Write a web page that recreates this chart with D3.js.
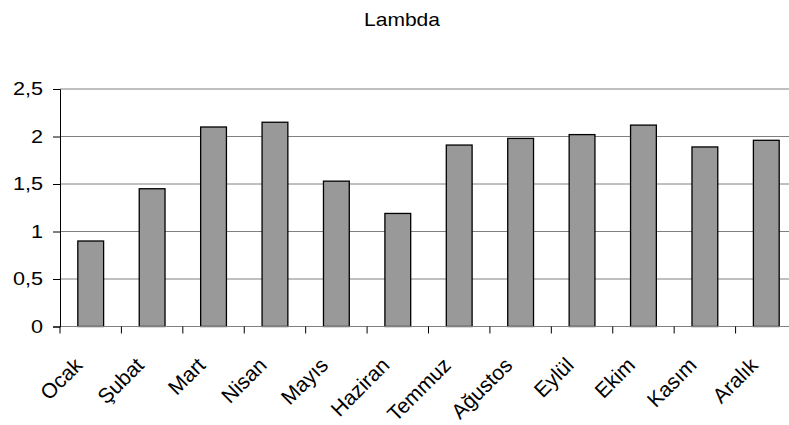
<!DOCTYPE html>
<html>
<head>
<meta charset="utf-8">
<script src="https://cdn.jsdelivr.net/npm/d3@7"></script>
<style>
  body { margin: 0; background: #fff; }
  svg { display: block; font-family: "Liberation Sans", Arial, sans-serif; }
</style>
</head>
<body>
<div id="chart"></div>
<script>
// Data
const months = ["Ocak", "Şubat", "Mart", "Nisan", "Mayıs", "Haziran",
                "Temmuz", "Ağustos", "Eylül", "Ekim", "Kasım", "Aralık"];
const lambdaValues = [0.9, 1.45, 2.1, 2.15, 1.53, 1.19, 1.91, 1.98, 2.02, 2.12, 1.89, 1.96];
const yTicks = [0, 0.5, 1, 1.5, 2, 2.5];

const W = 789, H = 425;
// plot area runs slightly past the right edge, as in the reference
const margin = { top: 89, left: 60 };
const plotW = 737, plotH = 237.5;
const stretch = 1.17; // title and y labels look horizontally stretched

const svg = d3.select("#chart").append("svg")
    .attr("width", W)
    .attr("height", H);

const g = svg.append("g")
    .attr("transform", `translate(${margin.left},${margin.top})`);

const x = d3.scaleBand()
    .domain(months)
    .range([0, plotW])
    .paddingInner(0.58)
    .paddingOuter(0.29);

const y = d3.scaleLinear()
    .domain([0, 2.5])
    .range([plotH, 0]);

// Gridlines
g.selectAll(".grid")
    .data(yTicks.filter(d => d > 0))
    .enter().append("line")
    .attr("class", "grid")
    .attr("x1", 0)
    .attr("x2", plotW)
    .attr("y1", d => y(d))
    .attr("y2", d => y(d))
    .attr("stroke", "#808080")
    .attr("stroke-width", 1);

// Bars
g.selectAll(".bar")
    .data(lambdaValues)
    .enter().append("rect")
    .attr("class", "bar")
    .attr("x", (d, i) => x(months[i]))
    .attr("y", d => y(d))
    .attr("width", x.bandwidth())
    .attr("height", d => plotH - y(d))
    .attr("fill", "#999999")
    .attr("stroke", "#000")
    .attr("stroke-width", 1.3);

// X axis: ticks at band boundaries
const boundaries = d3.range(months.length + 1).map(i => i * x.step());
const xAxis = g.append("g").attr("transform", `translate(0,${plotH})`);
xAxis.append("line")
    .attr("x1", 0).attr("x2", plotW)
    .attr("stroke", "#808080");
xAxis.selectAll(".xtick")
    .data(boundaries)
    .enter().append("line")
    .attr("class", "xtick")
    .attr("x1", d => d).attr("x2", d => d)
    .attr("y1", 0).attr("y2", 7)
    .attr("stroke", "#000");

xAxis.selectAll(".xlabel")
    .data(months)
    .enter().append("text")
    .attr("class", "xlabel")
    .attr("transform", d => `translate(${x(d) + x.bandwidth() / 2 - 7},${40}) rotate(-45)`)
    .attr("text-anchor", "end")
    .attr("font-size", 21)
    .attr("fill", "#000")
    .text(d => d);

// Y axis
const yAxis = g.append("g")
    .call(d3.axisLeft(y).tickValues(yTicks).tickSize(7).tickPadding(0)
        .tickFormat(d => String(d).replace(".", ",")));
yAxis.select(".domain").attr("stroke", "#000");
yAxis.selectAll(".tick line").attr("stroke", "#000");
yAxis.selectAll("text")
    .attr("x", 0)
    .attr("transform", `translate(-17,0) scale(${stretch},1)`)
    .attr("font-size", 18.5)
    .attr("fill", "#000")
    .attr("font-family", "Liberation Sans, Arial, sans-serif");

// Title
svg.append("text")
    .attr("transform", `translate(402,26) scale(${stretch},1)`)
    .attr("text-anchor", "middle")
    .attr("font-size", 18)
    .attr("fill", "#000")
    .text("Lambda");
</script>
</body>
</html>
